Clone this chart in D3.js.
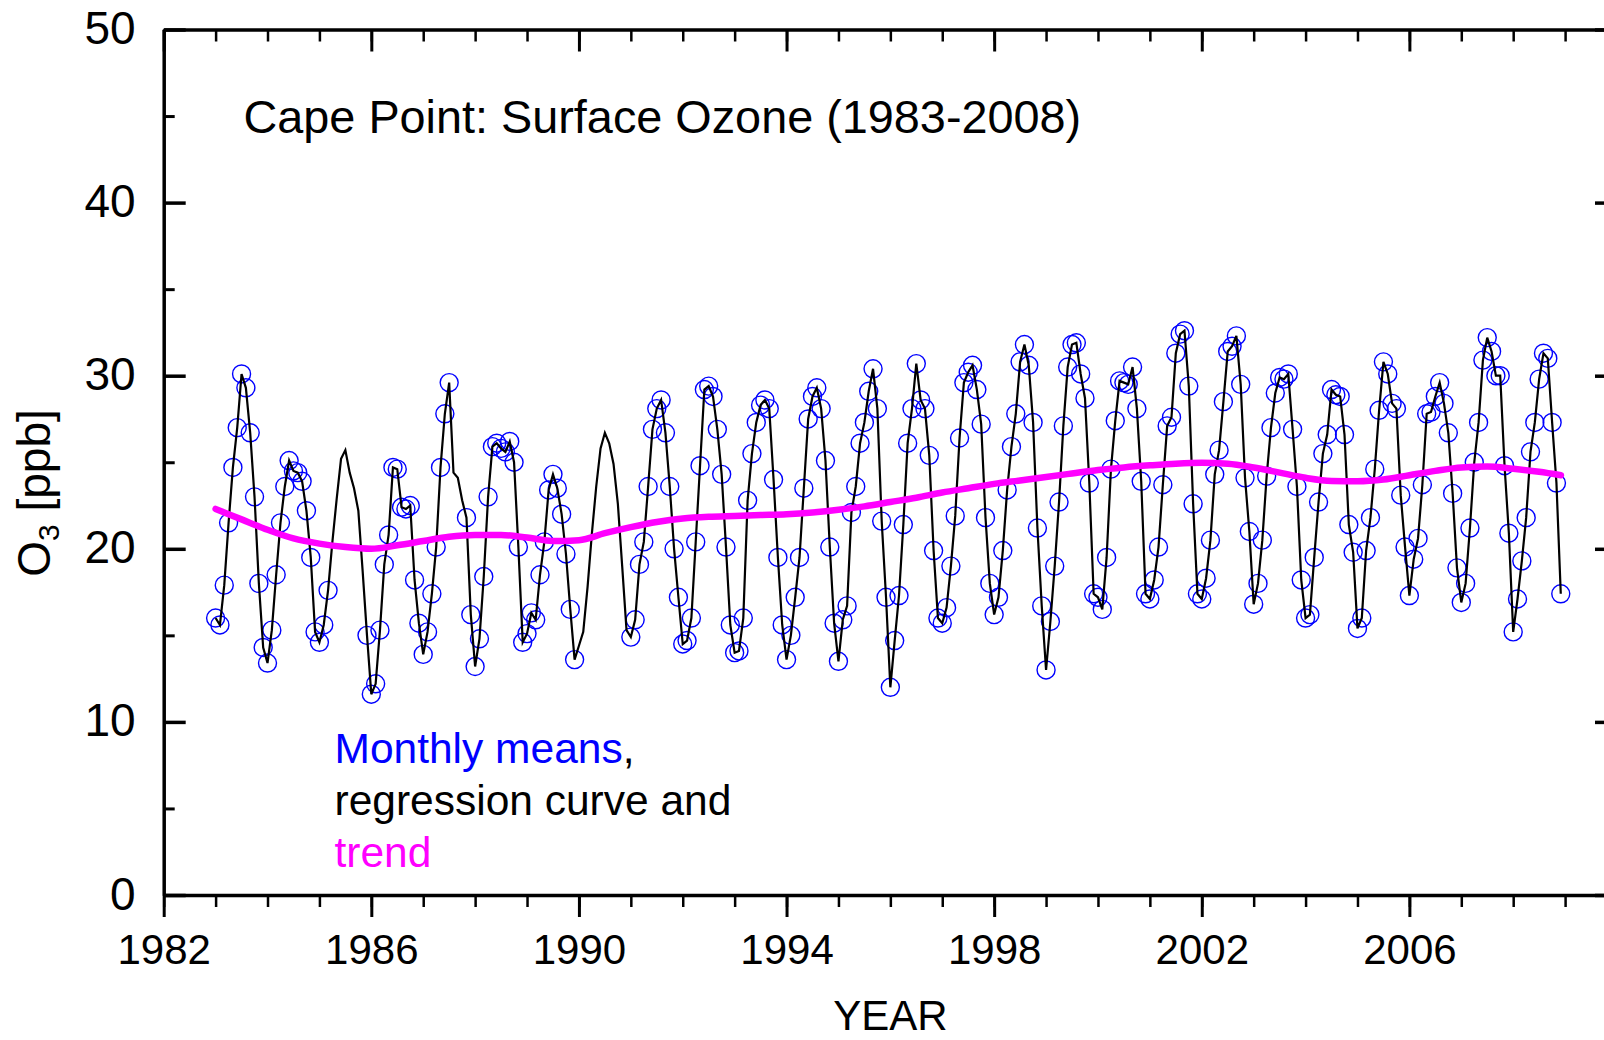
<!DOCTYPE html>
<html>
<head>
<meta charset="utf-8">
<script src="https://cdn.jsdelivr.net/npm/d3@7"></script>
<style>
  html, body { margin: 0; padding: 0; background: #ffffff; }
  svg { display: block; }
  text { font-family: "Liberation Sans", Arial, Helvetica, sans-serif; }
</style>
</head>
<body>
<svg id="chart" width="1604" height="1040"></svg>
<script>
// ---------------- data ----------------
const firstYear = 1983;            // first monthly mean = January 1983
const monthlyMeans = [
  // 1983
  16.0, 15.6, 17.9, 21.5, 24.7, 27.0, 30.1, 29.3, 26.7, 23.0, 18.0, 14.3,
  // 1984
  13.4, 15.3, 18.5, 21.5, 23.6, 25.1, 24.5, 24.4, 23.9, 22.2, 19.5, 15.2,
  // 1985
  14.6, 15.6, 17.6, null, null, null, null, null, null, null, null, 15.0,
  // 1986
  11.6, 12.2, 15.3, 19.1, 20.8, 24.7, 24.6, 22.4, 22.3, 22.5, 18.2, 15.7,
  // 1987
  13.9, 15.2, 17.4, 20.1, 24.7, 27.8, 29.6, null, null, null, 21.8, 16.2,
  // 1988
  13.2, 14.8, 18.4, 23.0, 25.9, 26.1, 25.8, 25.6, 26.2, 25.0, 20.1, 14.6,
  // 1989
  15.1, 16.3, 15.9, 18.5, 20.4, 23.4, 24.3, 23.5, 22.0, 19.7, 16.5, 13.6,
  // 1990
  null, null, null, null, null, null, null, null, null, null, null, null,
  // 1991
  14.9, 15.9, 19.1, 20.4, 23.6, 26.9, 28.1, 28.6, 26.7, 23.6, 20.0, 17.2,
  // 1992
  14.5, 14.7, 16.0, 20.4, 24.8, 29.2, 29.4, 28.8, 26.9, 24.3, 20.1, 15.6,
  // 1993
  14.0, 14.1, 16.0, 22.8, 25.5, 27.3, 28.3, 28.6, 28.1, 24.0, 19.5, 15.6,
  // 1994
  13.6, 15.0, 17.2, 19.5, 23.5, 27.5, 28.8, 29.3, 28.1, 25.1, 20.1, 15.7,
  // 1995
  13.5, 15.9, 16.7, 22.1, 23.6, 26.1, 27.3, 29.1, 30.4, 28.1, 21.6, 17.2,
  // 1996
  12.0, 14.7, 17.3, 21.4, 26.1, 28.1, 30.7, 28.6, 28.1, 25.4, 19.9, 16.0,
  // 1997
  15.7, 16.6, 19.0, 21.9, 26.4, 29.6, 30.2, 30.6, 29.2, 27.2, 21.8, 18.0,
  // 1998
  16.2, 17.2, 19.9, 23.4, 25.9, 27.8, 30.8, 31.8, 30.6, 27.3, 21.2, 16.7,
  // 1999
  13.0, 15.8, 19.0, 22.7, 27.1, 30.5, 31.8, 31.9, 30.1, 28.7, 23.8, 17.4,
  // 2000
  17.2, 16.5, 19.5, 24.6, 27.4, 29.7, 29.6, 29.5, 30.5, 28.1, 23.9, 17.4,
  // 2001
  17.1, 18.2, 20.1, 23.7, 27.1, 27.6, 31.3, 32.4, 32.6, 29.4, 22.6, 17.4,
  // 2002
  17.1, 18.3, 20.5, 24.3, 25.7, 28.5, 31.4, 31.7, 32.3, 29.5, 24.1, 21.0,
  // 2003
  16.8, 18.0, 20.5, 24.2, 27.0, 29.0, 29.9, 29.8, 30.1, 26.9, 23.6, 18.2,
  // 2004
  16.0, 16.2, 19.5, 22.7, 25.5, 26.6, 29.2, 28.9, 28.8, 26.6, 21.4, 19.8,
  // 2005
  15.4, 16.0, 19.9, 21.8, 24.6, 28.0, 30.8, 30.1, 28.4, 28.1, 23.1, 20.1,
  // 2006
  17.3, 19.4, 20.6, 23.7, 27.8, 27.9, 28.8, 29.6, 28.4, 26.7, 23.2, 18.9,
  // 2007
  16.9, 18.0, 21.2, 25.0, 27.3, 30.9, 32.2, 31.4, 30.0, 30.0, 24.8, 20.9,
  // 2008
  15.2, 17.1, 19.3, 21.8, 25.6, 27.3, 29.8, 31.3, 31.0, 27.3, 23.8, 17.4
];

// regression curve values read in the months without a monthly mean
const regressionGapMonths = [27, 28, 29, 30, 31, 32, 33, 34,
                             55, 56, 57,
                             84, 85, 86, 87, 88, 89, 90, 91, 92, 93, 94, 95];
const regressionGapValues = [20.4, 22.9, 25.2, 25.7, 24.4, 23.5, 22.2, 18.7,
                             24.4, 24.1, 22.8,
                             14.4, 15.2, 17.8, 20.9, 23.6, 25.8, 26.7, 26.1, 24.9, 22.6, 19.0, 15.3];

// trend curve (magenta)
const trendYears = [1983.0, 1983.5, 1984.0, 1984.5, 1985.0, 1985.5, 1986.0, 1986.5,
  1987.0, 1987.5, 1988.0, 1988.5, 1989.0, 1989.5, 1990.0, 1990.5, 1991.0, 1991.5,
  1992.0, 1992.5, 1993.0, 1993.5, 1994.0, 1994.5, 1995.0, 1995.5, 1996.0, 1996.5,
  1997.0, 1997.5, 1998.0, 1998.5, 1999.0, 1999.5, 2000.0, 2000.5, 2001.0, 2001.5,
  2002.0, 2002.5, 2003.0, 2003.5, 2004.0, 2004.5, 2005.0, 2005.5, 2006.0, 2006.5,
  2007.0, 2007.5, 2008.0, 2008.5, 2008.92];
const trendValues = [22.3, 21.7, 21.1, 20.6, 20.3, 20.1, 20.0, 20.2,
  20.45, 20.7, 20.8, 20.8, 20.65, 20.45, 20.5, 20.9, 21.25, 21.55,
  21.75, 21.85, 21.9, 21.95, 22.0, 22.1, 22.25, 22.45, 22.7, 22.95,
  23.25, 23.5, 23.75, 23.95, 24.15, 24.35, 24.55, 24.7, 24.82, 24.92,
  24.97, 24.92, 24.7, 24.4, 24.1, 23.92, 23.9, 24.0, 24.25, 24.5,
  24.7, 24.75, 24.62, 24.45, 24.25];

// axes
const xMajorTicks = [1982, 1986, 1990, 1994, 1998, 2002, 2006, 2010];
const xTickLabels = ["1982", "1986", "1990", "1994", "1998", "2002", "2006", ""]; // 2010 label lies outside the picture
const xMinorTicks = d3.range(1982, 2011, 1);
const yMajorTicks = [0, 10, 20, 30, 40, 50];
const yMinorTicks = [5, 15, 25, 35, 45];

// texts
const titleText = "Cape Point: Surface Ozone (1983-2008)";
const legendLines = [
  { text: "Monthly means", color: "#0000ff", suffix: "," },
  { text: "regression curve and", color: "#000000", suffix: "" },
  { text: "trend", color: "#ff00ff", suffix: "" }
];
const xAxisLabel = "YEAR";

// ---------------- drawing ----------------
const svg = d3.select("#chart");
const W = 1604, H = 1040;
const pL = 163.7, pR = 1617, pT = 29.5, pB = 895;

const x = d3.scaleLinear().domain([1982, 2010]).range([pL, pR]);
const y = d3.scaleLinear().domain([0, 50]).range([pB, pT]);

svg.append("rect").attr("width", W).attr("height", H).attr("fill", "#fff");

const monthYear = i => firstYear + i / 12;

// monthly means points
const points = monthlyMeans.map((v, i) => ({ t: monthYear(i), v })).filter(d => d.v != null);

// regression curve: monthly means with the gap months
const curveVals = monthlyMeans.slice();
regressionGapMonths.forEach((m, k) => { curveVals[m] = regressionGapValues[k]; });
const curvePts = curveVals.map((v, i) => ({ t: monthYear(i), v }));

const plot = svg.append("g");

plot.selectAll("circle.mm").data(points).join("circle")
  .attr("class", "mm")
  .attr("cx", d => x(d.t))
  .attr("cy", d => y(d.v))
  .attr("r", 9)
  .attr("fill", "none")
  .attr("stroke", "#0000ff")
  .attr("stroke-width", 1.4);

const line = d3.line().defined(d => d.v != null).x(d => x(d.t)).y(d => y(d.v));
plot.append("path").datum(curvePts)
  .attr("d", line)
  .attr("fill", "none")
  .attr("stroke", "#000")
  .attr("stroke-width", 2.2)
  .attr("stroke-linejoin", "miter");

const trendPts = trendYears.map((t, i) => ({ t, v: trendValues[i] }));
plot.append("path").datum(trendPts)
  .attr("d", d3.line().curve(d3.curveMonotoneX).x(d => x(d.t)).y(d => y(d.v)))
  .attr("fill", "none")
  .attr("stroke", "#ff00ff")
  .attr("stroke-width", 6.5)
  .attr("stroke-linecap", "round");

// ---- axes ----
function styleAxis(g, w) {
  g.selectAll(".domain").attr("stroke", "#000").attr("stroke-width", 3.5);
  g.selectAll(".tick line").attr("stroke", "#000").attr("stroke-width", w);
}

// bottom
const gBottomMinor = svg.append("g").attr("transform", `translate(0,${pB})`)
  .call(d3.axisBottom(x).tickValues(xMinorTicks).tickSize(12).tickSizeOuter(0).tickFormat(""));
gBottomMinor.select(".domain").remove();
styleAxis(gBottomMinor, 2.5);
const gBottom = svg.append("g").attr("transform", `translate(0,${pB})`)
  .call(d3.axisBottom(x).tickValues(xMajorTicks).tickSize(22).tickSizeOuter(0)
    .tickFormat((d, i) => xTickLabels[i]));
styleAxis(gBottom, 3);
gBottom.selectAll(".tick text")
  .attr("y", 69).attr("dy", 0)
  .attr("font-size", 42).attr("fill", "#000")
  .attr("font-family", "'Liberation Sans', Arial, sans-serif");

// top
const gTopMinor = svg.append("g").attr("transform", `translate(0,${pT})`)
  .call(d3.axisTop(x).tickValues(xMinorTicks).tickSize(-12).tickSizeOuter(0).tickFormat(""));
gTopMinor.select(".domain").remove();
styleAxis(gTopMinor, 2.5);
const gTop = svg.append("g").attr("transform", `translate(0,${pT})`)
  .call(d3.axisTop(x).tickValues(xMajorTicks).tickSize(-22).tickSizeOuter(0).tickFormat(""));
styleAxis(gTop, 3);

// left
const gLeftMinor = svg.append("g").attr("transform", `translate(${pL},0)`)
  .call(d3.axisLeft(y).tickValues(yMinorTicks).tickSize(-11).tickSizeOuter(0).tickFormat(""));
gLeftMinor.select(".domain").remove();
styleAxis(gLeftMinor, 3);
const gLeft = svg.append("g").attr("transform", `translate(${pL},0)`)
  .call(d3.axisLeft(y).tickValues(yMajorTicks).tickSize(-22).tickSizeOuter(0).tickPadding(28).tickFormat(d3.format("d")));
styleAxis(gLeft, 3.5);
gLeft.selectAll(".tick text")
  .attr("dy", 14).attr("font-size", 46).attr("fill", "#000")
  .attr("font-family", "'Liberation Sans', Arial, sans-serif");

// right
const gRightMinor = svg.append("g").attr("transform", `translate(${pR},0)`)
  .call(d3.axisRight(y).tickValues(yMinorTicks).tickSize(-11).tickSizeOuter(0).tickFormat(""));
gRightMinor.select(".domain").remove();
styleAxis(gRightMinor, 3);
const gRight = svg.append("g").attr("transform", `translate(${pR},0)`)
  .call(d3.axisRight(y).tickValues(yMajorTicks).tickSize(-22).tickSizeOuter(0).tickFormat(""));
styleAxis(gRight, 3.5);

// axis titles
svg.append("text")
  .attr("x", (pL + pR) / 2).attr("y", 1030)
  .attr("text-anchor", "middle").attr("font-size", 42).attr("fill", "#000")
  .text(xAxisLabel);

const yl = svg.append("text")
  .attr("transform", "translate(50,493) rotate(-90)")
  .attr("text-anchor", "middle").attr("font-size", 46).attr("fill", "#000");
yl.append("tspan").text("O");
yl.append("tspan").attr("font-size", 30).attr("dy", 9).text("3");
yl.append("tspan").attr("dy", -9).text(" [ppb]");

// in-plot title
svg.append("text")
  .attr("x", 243.5).attr("y", 133)
  .attr("font-size", 46.8).attr("fill", "#000")
  .text(titleText);

// legend
legendLines.forEach((l, i) => {
  const t = svg.append("text")
    .attr("x", 334.5).attr("y", 763 + i * 52)
    .attr("font-size", 42.5);
  t.append("tspan").attr("fill", l.color).text(l.text);
  if (l.suffix) t.append("tspan").attr("fill", "#000").text(l.suffix);
});
</script>
</body>
</html>
